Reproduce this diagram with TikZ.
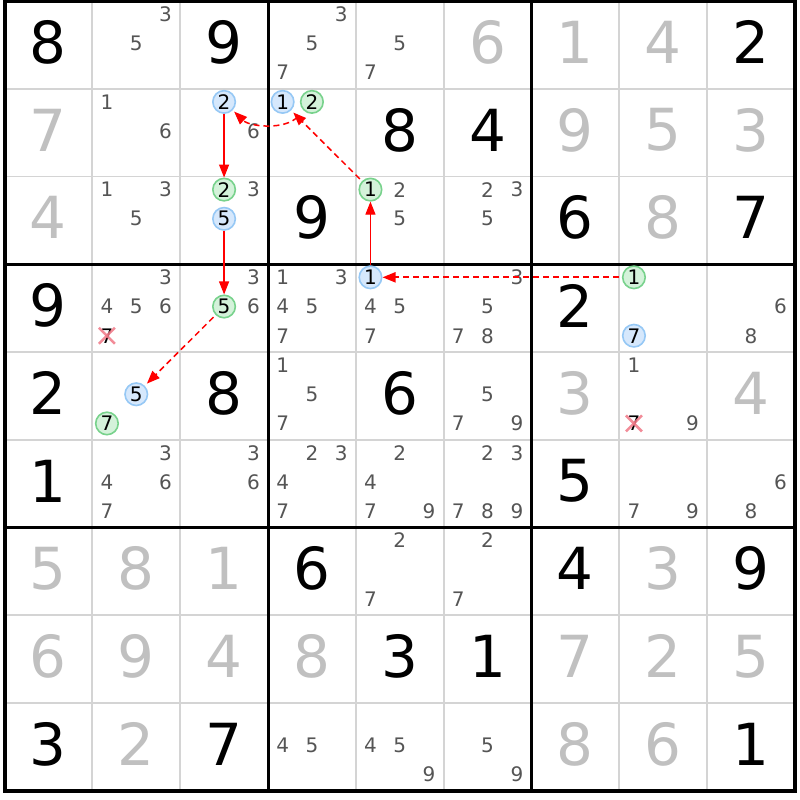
\documentclass[tikz,border=0pt]{standalone}
\usepackage{fontspec}
\setmainfont{DejaVu Sans}
\usetikzlibrary{arrows.meta}
\definecolor{candcol}{RGB}{85,85,85}
\definecolor{givgray}{RGB}{192,192,192}
\definecolor{gridthin}{RGB}{212,212,212}
\definecolor{bfill}{RGB}{214,232,252}
\definecolor{bline}{RGB}{150,200,245}
\definecolor{gfill}{RGB}{212,242,218}
\definecolor{gline}{RGB}{120,210,140}
\definecolor{xcol}{RGB}{240,120,135}
\newcommand\givB[3]{\node[givenb] (g#1#2) at ({4.5+87.833*(#2+0.5)},{1+87.72*(#1+0.5)-2.5}) {#3};}
\newcommand\givG[3]{\node[giveng] (g#1#2) at ({4.5+87.833*(#2+0.5)},{1+87.72*(#1+0.5)-2.5}) {#3};}
\newcommand\cnd[4][candst]{\node[#1] (c#2#3#4) at ({4.5+87.833*(#3+0.5)+29.3*(mod(#4-1,3)-1)},{1+87.72*(#2+0.5)+29.2*(int((#4-1)/3)-1)-1.5}) {#4};}
\newcommand\cnds[3]{\foreach \dd in {#3}{\cnd{#1}{#2}{\dd}}}
\begin{document}
\begin{tikzpicture}[x=1pt,y=-1pt,
 givenb/.style={font=\fontsize{58}{60}\selectfont, text=black, inner sep=0pt},
 giveng/.style={givenb, text=givgray},
 candst/.style={font=\fontsize{20}{20}\selectfont, text=candcol, inner sep=0pt},
 bcirc/.style={candst, text=black, circle, draw=bline, fill=bfill, line width=1.6pt, minimum size=22.5pt},
 gcirc/.style={bcirc, draw=gline, fill=gfill},
 xcand/.style={candst, text=black},
 linkarrow/.style={red, line width=1.2pt, -{Triangle[length=13pt,width=10pt]}},
 weakarrow/.style={linkarrow, line width=1.5pt, dash pattern=on 6pt off 4pt, shorten <=3pt, shorten >=3pt},
 xmark/.style={xcol, line width=2.5pt, opacity=0.85}]
\useasboundingbox (0,0) rectangle (800,800);
\fill[white] (0,0) rectangle (800,800);
% grid
\foreach \i in {1,2,4,5,7,8}{
  \draw[gridthin, line width=1.8pt] ({4.5+87.833*\i},1) -- ({4.5+87.833*\i},790.5);
  \draw[gridthin, line width=1.8pt] (4.5,{1+87.72*\i}) -- (795,{1+87.72*\i});
}
\foreach \i in {3,6}{
  \draw[black, line width=3pt] ({4.5+87.833*\i},1) -- ({4.5+87.833*\i},790.5);
  \draw[black, line width=3pt] (4.5,{1+87.72*\i}) -- (795,{1+87.72*\i});
}
\draw[black, line width=4pt] (4.5,1) rectangle (795,790.5);
% givens
\givB{0}{0}{8}\givB{0}{2}{9}\givG{0}{5}{6}\givG{0}{6}{1}\givG{0}{7}{4}\givB{0}{8}{2}
\givG{1}{0}{7}\givB{1}{4}{8}\givB{1}{5}{4}\givG{1}{6}{9}\givG{1}{7}{5}\givG{1}{8}{3}
\givG{2}{0}{4}\givB{2}{3}{9}\givB{2}{6}{6}\givG{2}{7}{8}\givB{2}{8}{7}
\givB{3}{0}{9}\givB{3}{6}{2}
\givB{4}{0}{2}\givB{4}{2}{8}\givB{4}{4}{6}\givG{4}{6}{3}\givG{4}{8}{4}
\givB{5}{0}{1}\givB{5}{6}{5}
\givG{6}{0}{5}\givG{6}{1}{8}\givG{6}{2}{1}\givB{6}{3}{6}\givB{6}{6}{4}\givG{6}{7}{3}\givB{6}{8}{9}
\givG{7}{0}{6}\givG{7}{1}{9}\givG{7}{2}{4}\givG{7}{3}{8}\givB{7}{4}{3}\givB{7}{5}{1}\givG{7}{6}{7}\givG{7}{7}{2}\givG{7}{8}{5}
\givB{8}{0}{3}\givG{8}{1}{2}\givB{8}{2}{7}\givG{8}{6}{8}\givG{8}{7}{6}\givB{8}{8}{1}
% candidates
\cnds{0}{1}{3,5}\cnds{0}{3}{3,5,7}\cnds{0}{4}{5,7}
\cnds{1}{1}{1,6}\cnds{1}{2}{6}\cnd[bcirc]{1}{2}{2}\cnd[bcirc]{1}{3}{1}\cnd[gcirc]{1}{3}{2}
\cnds{2}{1}{1,3,5}\cnd[gcirc]{2}{2}{2}\cnds{2}{2}{3}\cnd[bcirc]{2}{2}{5}\cnd[gcirc]{2}{4}{1}\cnds{2}{4}{2,5}\cnds{2}{5}{2,3,5}
\cnds{3}{1}{3,4,5,6}\cnd[xcand]{3}{1}{7}\cnds{3}{2}{3,6}\cnd[gcirc]{3}{2}{5}\cnds{3}{3}{1,3,4,5,7}\cnd[bcirc]{3}{4}{1}\cnds{3}{4}{4,5,7}\cnds{3}{5}{3,5,7,8}\cnd[gcirc]{3}{7}{1}\cnd[bcirc]{3}{7}{7}\cnds{3}{8}{6,8}
\cnd[bcirc]{4}{1}{5}\cnd[gcirc]{4}{1}{7}\cnds{4}{3}{1,5,7}\cnds{4}{5}{5,7,9}\cnds{4}{7}{1,9}\cnd[xcand]{4}{7}{7}
\cnds{5}{1}{3,4,6,7}\cnds{5}{2}{3,6}\cnds{5}{3}{2,3,4,7}\cnds{5}{4}{2,4,7,9}\cnds{5}{5}{2,3,7,8,9}\cnds{5}{7}{7,9}\cnds{5}{8}{6,8}
\cnds{6}{4}{2,7}\cnds{6}{5}{2,7}
\cnds{8}{3}{4,5}\cnds{8}{4}{4,5,9}\cnds{8}{5}{5,9}
% eliminations
\draw[xmark] ([shift={(-8,-8)}]c317.center) -- ([shift={(8,8)}]c317.center);
\draw[xmark] ([shift={(-8,8)}]c317.center) -- ([shift={(8,-8)}]c317.center);
\draw[xmark] ([shift={(-8,-8)}]c477.center) -- ([shift={(8,8)}]c477.center);
\draw[xmark] ([shift={(-8,8)}]c477.center) -- ([shift={(8,-8)}]c477.center);
% chain
\draw[weakarrow, line width=2pt, shorten >=0pt] (c371) -- (c341);
\draw[linkarrow] (c341) -- (c241);
\draw[weakarrow] (c241) -- (c131);
\draw[weakarrow, shorten <=9pt, shorten >=2pt] (c132) .. controls (285,130) and (250,127) .. (c122);
\draw[linkarrow] (c122) -- (c222);
\draw[linkarrow] (c225) -- (c325);
\draw[weakarrow] (c325) -- (c415);
\end{tikzpicture}
\end{document}
